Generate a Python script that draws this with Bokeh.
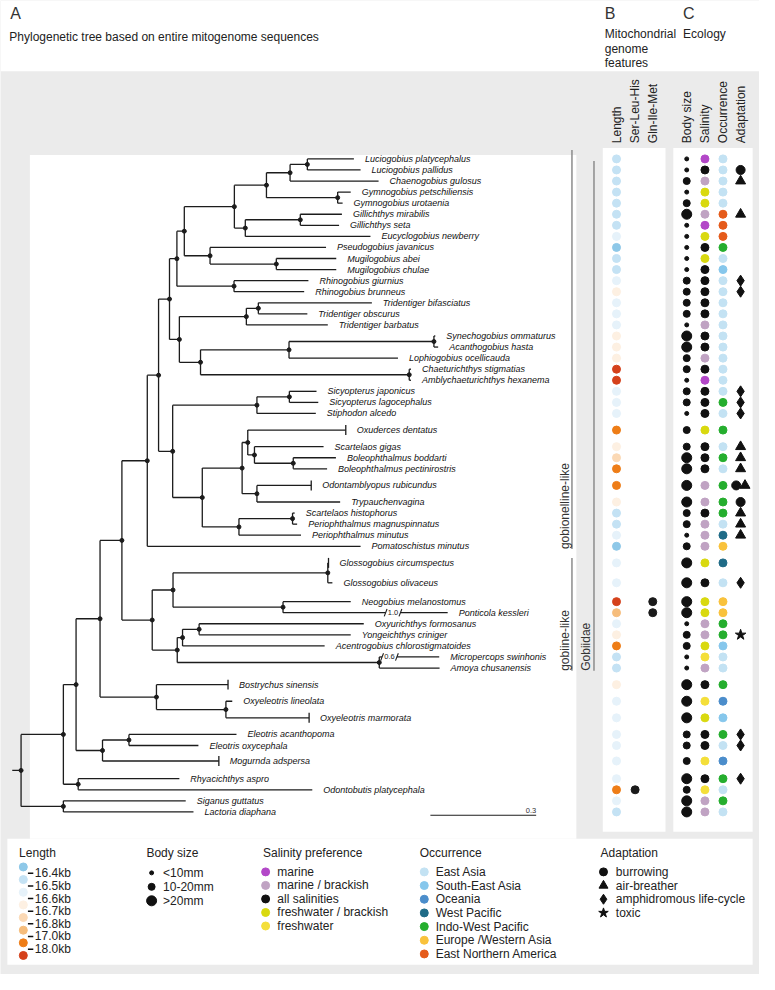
import math
from bokeh.plotting import figure
from bokeh.models import Range1d, ColumnDataSource
from bokeh.core.properties import value
from bokeh.embed import file_html
from bokeh.resources import INLINE

# ---------------- DATA ----------------
species = ["Luciogobius platycephalus", "Luciogobius pallidus", "Chaenogobius gulosus",
           "Gymnogobius petschiliensis", "Gymnogobius urotaenia", "Gillichthys mirabilis",
           "Gillichthys seta", "Eucyclogobius newberry", "Pseudogobius javanicus",
           "Mugilogobius abei", "Mugilogobius chulae", "Rhinogobius giurnius",
           "Rhinogobius brunneus", "Tridentiger bifasciatus", "Tridentiger obscurus",
           "Tridentiger barbatus", "Synechogobius ommaturus", "Acanthogobius hasta",
           "Lophiogobius ocellicauda", "Chaeturichthys stigmatias", "Amblychaeturichthys hexanema",
           "Sicyopterus japonicus", "Sicyopterus lagocephalus", "Stiphodon alcedo",
           "Oxuderces dentatus", "Scartelaos gigas", "Boleophthalmus boddarti",
           "Boleophthalmus pectinirostris", "Odontamblyopus rubicundus", "Trypauchenvagina",
           "Scartelaos histophorus", "Periophthalmus magnuspinnatus", "Periophthalmus minutus",
           "Pomatoschistus minutus", "Glossogobius circumspectus", "Glossogobius olivaceus",
           "Neogobius melanostomus", "Ponticola kessleri", "Oxyurichthys formosanus",
           "Yongeichthys criniger", "Acentrogobius chlorostigmatoides", "Micropercops swinhonis",
           "Amoya chusanensis", "Bostrychus sinensis", "Oxyeleotris lineolata",
           "Oxyeleotris marmorata", "Eleotris acanthopoma", "Eleotris oxycephala",
           "Mogurnda adspersa", "Rhyacichthys aspro", "Odontobutis platycephala",
           "Siganus guttatus", "Lactoria diaphana"]

# vertical position of each tip (row units)
leaf_row = [0, 1, 2, 3, 4, 5, 6, 7, 8, 9, 10, 11, 12, 13, 14, 15,
            16, 17, 18, 19, 20, 21, 22, 23, 24.5, 26, 27, 28, 29.5,
            31, 32, 33, 34, 35, 36.5, 38.3, 40, 41, 42, 43, 44, 45, 46,
            47.5, 49, 50.5, 52, 53, 54.4, 56, 57, 58, 59]

# tip depth (substitutions/site from root)
leaf_depth = [0.944, 0.963, 1.014, 0.935, 0.912, 0.910, 0.902, 0.991, 0.865, 0.894,
              0.894, 0.815, 0.803, 0.995, 0.812, 0.870, 1.175, 1.183, 1.069, 1.106,
              1.106, 0.838, 0.843, 0.836, 0.921, 0.858, 0.893, 0.868, 0.823, 0.905,
              0.776, 0.783, 0.794, 0.963, 0.872, 0.883, 0.935, 1.210, 0.972, 0.935,
              0.861, 1.186, 1.187, 0.587, 0.599, 0.817, 0.611, 0.503, 0.561, 0.449,
              0.826, 0.467, 0.489]

# tree topology: (node depth, children...), ints are tip numbers (1-based)
tree = (0.000,
        (0.120,
         (0.156,
          (0.224,
           (0.286,
            (0.358,
             (0.390,
              (0.421,
               (0.442,
                (0.463,
                 (0.605,
                  (0.696,
                   (0.763, (0.812, 1, 2), 3),
                   (0.898, 4, 5)),
                  (0.636, (0.792, 6, 7), 8)),
                 (0.536, 9, (0.724, 10, 11))),
                (0.604, 12, 13)),
               (0.449,
                (0.639, (0.673, 14, 15), 16),
                (0.509, (0.760, (1.171, 17, 18), 19), (1.101, 20, 21)))),
              (0.430,
               (0.669, (0.761, 22, 23), 24),
               (0.514,
                (0.627,
                 (0.643, 25, (0.662, 26, (0.772, 27, 28))),
                 (0.669, 29, 30)),
                (0.618, (0.770, 31, 32), 33)))),
             34),
            (0.372,
             (0.431, (0.870, 35, 36), (0.743, 37, 38)),
             (0.443, (0.458, (0.505, 39, 40), 41), (1.016, 42, 43)))),
           (0.384, 44, (0.581, 45, 46))),
          (0.231, (0.306, 47, 48), 49)),
         (0.162, 50, 51)),
        (0.120, 52, 53))

# shortened branches: tip -> (true length label, break start, break end)
branch_breaks = {38: ("1.0", 1.034, 1.076), 42: ("0.6", 1.024, 1.066)}
tip_ticks = [25, 29, 35, 44, 46, 49]
scale_bar = 0.3

clades = [("gobionelline-like", 1, 34, 0), ("gobiine-like", 35, 43, 0), ("Gobiidae", 1, 43, 1)]

# Mitochondrial genome features
length_labels = ["16.4kb", "16.5kb", "16.6kb", "16.7kb", "16.8kb", "17.0kb", "18.0kb"]
length_colors = ["#8EC8E8", "#C4E2F4", "#E6F2FA", "#FDF0E2", "#FBD9B5", "#F6BD7C", "#EE7D17", "#D5411B"]
length_class = [1, 1, 1, 1, 1, 1, 1, 2, 0, 1, 1, 2, 3, 2, 2, 2, 3, 3, 3, 7, 7, 2, 2, 2, 6, 3, 4, 6, 6, 3,
                1, 1, 2, 0, 2, 2, 7, 5, 2, 3, 6, 1, 1, 3, 2, 2, 2, 2, 2, 2, 6, 2, 1]
ser_leu_his = [51]
gln_ile_met = [37, 38]

# Ecology
body_labels = ["<10mm", "10-20mm", ">20mm"]
body_size = [0, 0, 1, 0, 1, 2, 0, 0, 0, 0, 0, 1, 1, 1, 1, 0, 2, 2, 1, 1, 0, 1, 1, 0, 1, 1, 2, 2, 2, 2,
             1, 1, 0, 1, 2, 2, 2, 2, 0, 1, 1, 0, 0, 2, 2, 2, 1, 1, 1, 2, 1, 2, 2]
salinity_labels = ["marine", "marine / brackish", "all salinities", "freshwater / brackish", "freshwater"]
salinity_colors = ["#B347C8", "#C0A3C3", "#111111", "#D9D90F", "#F4DF3A"]
salinity = [0, 2, 1, 3, 3, 1, 0, 3, 2, 3, 2, 2, 2, 2, 2, 1, 2, 2, 1, 2, 0, 2, 2, 2, 3, 2, 2, 2, 1, 1,
            2, 1, 1, 1, 3, 2, 3, 3, 1, 1, 3, 4, 1, 2, 4, 3, 2, 2, 4, 2, 4, 1, 1]
occurrence_labels = ["East Asia", "South-East Asia", "Oceania", "West Pacific", "Indo-West Pacific",
                     "Europe /Western Asia", "East Northern America"]
occurrence_colors = ["#C3E2F3", "#86C7EC", "#4B8DCB", "#1F6B87", "#25AE2E", "#F9C23C", "#E55B1B"]
occurrence = [0, 0, 0, 0, 0, 6, 6, 6, 4, 0, 1, 0, 0, 0, 0, 0, 0, 0, 0, 0, 0, 0, 4, 0, 4, 0, 4, 0, 4, 4,
              4, 0, 3, 5, 3, 0, 5, 5, 4, 4, 1, 0, 0, 4, 2, 1, 4, 0, 2, 4, 0, 4, 0]
adaptation_labels = ["burrowing", "air-breather", "amphidromous life-cycle", "toxic"]
adaptation_markers = ["circle", "triangle", "diamond", "star"]
adapt_leaf = [2, 3, 6, 12, 13, 22, 23, 24, 26, 27, 28, 29, 29, 30, 31, 32, 33, 36, 40, 47, 48, 50]
adapt_kind = [0, 1, 1, 2, 2, 2, 2, 2, 1, 1, 1, 0, 1, 0, 1, 1, 1, 2, 3, 2, 2, 2]

# ---------------- LAYOUT ----------------
W, H = 759, 974            # figure size in screen pixels
CW, CH = 775, 990          # canvas coordinate extent (drawing units)
ROOT_PX, PX_PER_UNIT = 21, 360.0
ROW0_PX, ROW_PX = 161, 11.25
FONT = value("Liberation Sans")
INK = "#1c1c1c"

p = figure(width=W, height=H, x_range=Range1d(0, CW), y_range=Range1d(CH, 0),
           x_axis_type=None, y_axis_type=None, toolbar_location=None,
           output_backend="svg", min_border=0)
p.outline_line_color = None
p.grid.visible = False
p.background_fill_color = "#EBEBEB"
p.border_fill_color = "#EBEBEB"
p.extra_x_ranges = {"tree": Range1d((0 - ROOT_PX) / PX_PER_UNIT, (CW - ROOT_PX) / PX_PER_UNIT)}
p.extra_y_ranges = {"rows": Range1d((CH - ROW0_PX) / ROW_PX, (0 - ROW0_PX) / ROW_PX)}


def txt(xs, ys, ts, size, color="#222222", align="left", baseline="middle", angle=0.0,
        style="normal", xr="default", yr="default", x_offset=0, y_offset=0):
    src = ColumnDataSource(dict(x=list(xs), y=list(ys), t=list(ts)))
    p.text(x="x", y="y", text="t", source=src, text_font=FONT, text_font_size=size,
           text_color=color, text_align=align, text_baseline=baseline, angle=angle,
           text_font_style=style, x_range_name=xr, y_range_name=yr,
           x_offset=x_offset, y_offset=y_offset)


# panels (white boxes on grey)
panels = dict(left=[0, 30, 615, 687, 7], right=[775, 588, 679, 768, 768],
              top=[0, 157, 150, 150, 852], bottom=[72, 852, 845, 845, 980])
p.quad(source=ColumnDataSource(panels), left="left", right="right", top="top", bottom="bottom",
       fill_color="white", line_color=None)

# ---------------- TREE ----------------
hx0, hx1, hy = [], [], []
vx, vy0, vy1 = [], [], []
node_x, node_y = [], []


def layout(node):
    if isinstance(node, int):
        return leaf_depth[node - 1], leaf_row[node - 1]
    d = node[0]
    ys = []
    for ch in node[1:]:
        cd, cy = layout(ch)
        if isinstance(ch, int) and ch in branch_breaks:
            _, b0, b1 = branch_breaks[ch]
            hx0.extend([d, b1]); hx1.extend([b0, cd]); hy.extend([cy, cy])
        else:
            hx0.append(d); hx1.append(cd); hy.append(cy)
        ys.append(cy)
    vx.append(d); vy0.append(min(ys)); vy1.append(max(ys))
    y = (min(ys) + max(ys)) / 2.0
    node_x.append(d); node_y.append(y)
    return d, y


root_d, root_y = layout(tree)
hx0.append(root_d - 0.025); hx1.append(root_d); hy.append(root_y)

p.segment(x0=hx0, y0=hy, x1=hx1, y1=hy, line_color=INK, line_width=1.3,
          x_range_name="tree", y_range_name="rows")
p.segment(x0=vx, y0=vy0, x1=vx, y1=vy1, line_color=INK, line_width=1.3,
          x_range_name="tree", y_range_name="rows")
p.scatter(x=node_x, y=node_y, size=4, color=INK, x_range_name="tree", y_range_name="rows")

tick_x = [leaf_depth[i - 1] for i in tip_ticks]
tick_y = [leaf_row[i - 1] for i in tip_ticks]
p.segment(x0=tick_x, y0=[y - 0.45 for y in tick_y], x1=tick_x, y1=[y + 0.45 for y in tick_y],
          line_color=INK, line_width=1.3, x_range_name="tree", y_range_name="rows")

# broken branch marks: slanted strokes at both ends of the gap and the true length
sl_x0, sl_x1, sl_y0, sl_y1 = [], [], [], []
for leaf, (lab, b0, b1) in branch_breaks.items():
    yb = leaf_row[leaf - 1]
    for b in (b0, b1):
        sl_x0.append(b - 0.004); sl_x1.append(b + 0.004)
        sl_y0.append(yb + 0.33); sl_y1.append(yb - 0.33)
    txt([(b0 + b1) / 2], [yb], [lab], "7.5px", color=INK, align="center", xr="tree", yr="rows")
p.segment(x0=sl_x0, y0=sl_y0, x1=sl_x1, y1=sl_y1, line_color=INK, line_width=1.1,
          x_range_name="tree", y_range_name="rows")

# species labels
txt(leaf_depth, leaf_row, species, "9px", color="#111111", style="italic",
    xr="tree", yr="rows", x_offset=11)

# scale bar
sb_x0, sb_row = 1.161, 59.3
p.segment(x0=[sb_x0], y0=[sb_row], x1=[sb_x0 + scale_bar], y1=[sb_row], line_color=INK,
          line_width=1.2, x_range_name="tree", y_range_name="rows")
txt([sb_x0 + scale_bar], [sb_row], [str(scale_bar)], "7.5px", color="#333333", align="right",
    baseline="bottom", xr="tree", yr="rows", y_offset=-2)

# clade brackets
bracket_x = [583.5, 606]
label_x = [576, 598]
bracket_pad_top = {"gobionelline-like": 0.8, "gobiine-like": 0.45, "Gobiidae": -0.2}
for name, a, b, lvl in clades:
    top = leaf_row[a - 1] - bracket_pad_top[name]
    bot = leaf_row[b - 1] + 0.25
    p.segment(x0=[bracket_x[lvl]], y0=[top], x1=[bracket_x[lvl]], y1=[bot], line_color="#8C8C8C",
              line_width=1.5, y_range_name="rows")
    txt([label_x[lvl]], [bot], [name], "12px", color="#333333", angle=math.pi / 2, yr="rows")

# ---------------- COLUMNS ----------------
COL_B = [629, 648, 666]
COL_C = [700.7, 719.3, 737.7, 755.7]

p.scatter(x=[COL_B[0]] * len(species), y=leaf_row, size=8,
          color=[length_colors[c] for c in length_class], y_range_name="rows")
p.scatter(x=[COL_B[1]] * len(ser_leu_his), y=[leaf_row[i - 1] for i in ser_leu_his], size=8,
          color="#1a1a1a", y_range_name="rows")
p.scatter(x=[COL_B[2]] * len(gln_ile_met), y=[leaf_row[i - 1] for i in gln_ile_met], size=8,
          color="#1a1a1a", y_range_name="rows")

body_px = [4, 7, 10]
p.scatter(x=[COL_C[0]] * len(species), y=leaf_row, size=[body_px[b] for b in body_size],
          color="#111111", y_range_name="rows")
p.scatter(x=[COL_C[1]] * len(species), y=leaf_row, size=8,
          color=[salinity_colors[s] for s in salinity], y_range_name="rows")
p.scatter(x=[COL_C[2]] * len(species), y=leaf_row, size=8,
          color=[occurrence_colors[o] for o in occurrence], y_range_name="rows")

marker_px = [9, 10, 11, 11]
ax, ay, am, asz = [], [], [], []
seen = {}
for leaf, kind in zip(adapt_leaf, adapt_kind):
    n = adapt_leaf.count(leaf)
    k = seen.get(leaf, 0)
    seen[leaf] = k + 1
    shift = 0 if n == 1 else (-4.5 if k == 0 else 4.5)
    ax.append(COL_C[3] + shift); ay.append(leaf_row[leaf - 1])
    am.append(adaptation_markers[kind]); asz.append(marker_px[kind])
p.scatter(x=ax, y=ay, marker=am, size=asz, color="#111111", y_range_name="rows")

# column headers
hdr = ["Length", "Ser-Leu-His", "Gln-Ile-Met", "Body size", "Salinity", "Occurrence", "Adaptation"]
txt(COL_B + COL_C, [145] * 7, hdr, "12px", color="#222222", angle=math.pi / 2)

# panel titles
txt([10, 617, 697], [13, 13, 13], ["A", "B", "C"], "16px", color="#333333")
txt([9], [37], ["Phylogenetic tree based on entire mitogenome sequences"], "12px")
txt([617, 617, 617], [34, 49, 64], ["Mitochondrial", "genome", "features"], "12px")
txt([697], [34], ["Ecology"], "12px")

# ---------------- LEGEND ----------------
TITLE_Y = 866
txt([19, 149, 268, 428, 612.7], [TITLE_Y] * 5,
    ["Length", "Body size", "Salinity preference", "Occurrence", "Adaptation"], "12px")

# length colour scale
ly = [880.7 + 12.85 * i for i in range(len(length_colors))]
p.scatter(x=[23.3] * len(length_colors), y=ly, size=8, color=length_colors)
lab_y = [(ly[i] + ly[i + 1]) / 2 for i in range(len(length_labels))]
p.segment(x0=[28] * len(lab_y), y0=lab_y, x1=[33.5] * len(lab_y), y1=lab_y, line_color="#111111",
          line_width=1.5)
txt([35] * len(lab_y), lab_y, length_labels, "12px")

# body size
by = [886.7 + 14.2 * i for i in range(3)]
p.scatter(x=[154.3] * 3, y=by, size=body_px, color="#111111")
txt([166] * 3, by, body_labels, "12px")

# salinity
sy = [885.7 + 13.75 * i for i in range(len(salinity_labels))]
p.scatter(x=[270.7] * len(sy), y=sy, size=8, color=salinity_colors)
txt([282.7] * len(sy), sy, salinity_labels, "12px")

# occurrence
oy = [885.7 + 13.9 * i for i in range(len(occurrence_labels))]
p.scatter(x=[432.7] * len(oy), y=oy, size=8, color=occurrence_colors)
txt([444.3] * len(oy), oy, occurrence_labels, "12px")

# adaptation
ady = [885.7 + 13.9 * i for i in range(len(adaptation_labels))]
p.scatter(x=[615.7] * len(ady), y=ady, marker=adaptation_markers, size=[8, 9, 10, 10],
          color="#111111")
txt([628.3] * len(ady), ady, adaptation_labels, "12px")

open("out.html", "w").write(file_html(p, INLINE))
